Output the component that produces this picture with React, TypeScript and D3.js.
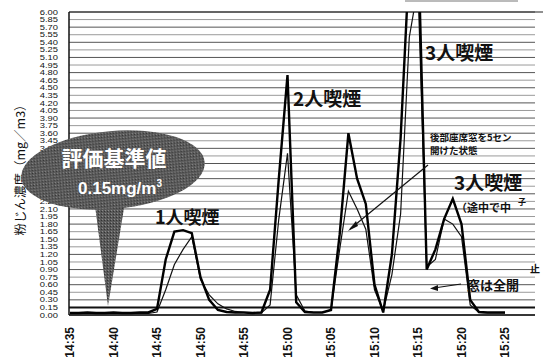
import React from "react";
import * as d3 from "d3";

const minutes = [0,1,2,3,4,5,6,7,8,9,10,11,12,13,14,15,16,17,18,19,20,21,22,23,24,25,26,27,28,29,30,31,32,33,34,35,36,37,38,39,40,41,42,43,44,45,46,47,48,49,50];
const thickSeries = [0.04,0.04,0.05,0.04,0.04,0.05,0.04,0.04,0.05,0.05,0.12,1.1,1.65,1.68,1.62,0.75,0.3,0.1,0.06,0.05,0.05,0.04,0.05,0.5,2.7,4.75,0.25,0.06,0.05,0.05,0.1,1.6,3.6,2.7,2.2,0.6,0.05,1.2,3.5,7.0,7.5,0.9,1.3,1.9,2.3,1.8,0.3,0.06,0.05,0.05,0.05];
const thinSeries = [0.03,0.03,0.03,0.03,0.03,0.03,0.03,0.03,0.03,0.03,0.06,0.5,1.0,1.3,1.55,0.7,0.4,0.22,0.12,0.07,0.05,0.04,0.04,0.2,1.9,3.2,0.4,0.08,0.05,0.05,0.1,1.3,2.45,2.1,1.7,0.5,0.08,0.8,2.0,5.5,6.5,0.95,1.1,1.9,1.8,1.55,0.2,0.05,0.04,0.04,0.04];
const tickMinutes = [0,5,10,15,20,25,30,35,40,45,50];
const tickLabels = ["14:35","14:40","14:45","14:50","14:55","15:00","15:05","15:10","15:15","15:20","15:25"];
const yTicks = d3.range(0, 41).map((i) => +(i * 0.15).toFixed(2));
const threshold = 0.15;

const W = 543, H = 361;
const L = 69, R = 535, T = 12, B = 315;

export default function App() {
  const x = d3.scaleLinear().domain([0, 50]).range([70, 505]);
  const y = d3.scaleLinear().domain([0, 6]).range([B, T]);
  const line = d3.line<number>().x((_, i) => x(minutes[i])).y((d) => y(d));
  const jp = "'Noto Sans CJK JP', 'Noto Sans', sans-serif";
  const sans = "'Liberation Sans', Arial, sans-serif";
  return (
    <svg width={W} height={H} style={{ position: "absolute", left: 0, top: 0, background: "#fff" }}>
      <defs>
        <clipPath id="plot"><rect x={L} y={T} width={R - L} height={B - T} /></clipPath>
        <pattern id="stip" width="3" height="3" patternUnits="userSpaceOnUse">
          <rect width="3" height="3" fill="#5a5a5a" />
          <rect x="0" y="0" width="1" height="1" fill="#8a8a8a" />
          <rect x="2" y="1" width="1" height="1" fill="#333" />
        </pattern>
      </defs>
      <line x1={405} x2={518} y1={1} y2={1} stroke="#777" strokeWidth={1} />
      {yTicks.map((v, i) => (
        <line key={"g" + i} x1={L} x2={R} y1={y(v)} y2={y(v)} stroke={i % 2 ? "#9a9a9a" : "#555"} strokeWidth={1} />
      ))}
      <line x1={L} x2={R + 8} y1={T} y2={T} stroke="#222" strokeWidth={1.2} />
      <line x1={L} x2={L} y1={T} y2={B} stroke="#111" strokeWidth={1.5} />
      <line x1={L} x2={R} y1={B} y2={B} stroke="#111" strokeWidth={1.5} />
      <line x1={L} x2={R} y1={y(threshold)} y2={y(threshold)} stroke="#111" strokeWidth={2} />
      {yTicks.map((v, i) => (
        <text key={"yl" + i} transform={`translate(58,${y(v) + 2.6}) scale(1.3,1)`} fontSize={7.2} fontFamily={sans} textAnchor="end" fill="#111">{v.toFixed(2)}</text>
      ))}
      {tickMinutes.map((m, i) => (
        <text key={"xl" + i} transform={`translate(${x(m) + 4},327) rotate(-90)`} fontSize={12} fontFamily={sans} fontWeight="bold" textAnchor="end" fill="#111">{tickLabels[i]}</text>
      ))}
      <text transform="translate(25,167) rotate(-90)" fontSize={12.5} fontFamily={jp} textAnchor="middle" fill="#111">粉じん濃度（mg／m3）</text>
      <g clipPath="url(#plot)">
        <path d={line(thinSeries) || ""} fill="none" stroke="#111" strokeWidth={1.2} />
        <path d={line(thickSeries) || ""} fill="none" stroke="#000" strokeWidth={2.4} />
      </g>
      <path d="M94,198 L108,306 L126,196 Z" fill="url(#stip)" />
      <ellipse cx={113} cy={170} rx={92} ry={39} transform="rotate(-5,113,170)" fill="url(#stip)" />
      <text x={114} y={166} fontSize={21} fontFamily={jp} fontWeight="bold" fill="#fff" textAnchor="middle">評価基準値</text>
      <text x={78} y={194} fontSize={17} fontFamily={sans} fontWeight="bold" fill="#fff">0.15mg/m<tspan fontSize={10} dy={-7}>3</tspan></text>
      <text x={155} y={224} fontSize={18} fontFamily={jp} fontWeight="bold" fill="#111">1人喫煙</text>
      <text x={293} y={106} fontSize={19} fontFamily={jp} fontWeight="bold" fill="#111">2人喫煙</text>
      <text x={425} y={60} fontSize={19} fontFamily={jp} fontWeight="bold" fill="#111">3人喫煙</text>
      <text x={454} y={190} fontSize={19} fontFamily={jp} fontWeight="bold" fill="#111">3人喫煙</text>
      <text x={456} y={212} fontSize={11} fontFamily={jp} fontWeight="bold" fill="#111">（途中で中</text>
      <text x={518} y={205} fontSize={8} fontFamily={jp} fontWeight="bold" fill="#111">子</text>
      <text x={530} y={273} fontSize={10} fontFamily={jp} fontWeight="bold" fill="#111">止</text>
      <text x={430} y={140.5} fontSize={9.5} fontFamily={jp} fontWeight="bold" fill="#111">後部座席窓を5セン</text>
      <text x={430} y={153.5} fontSize={9.5} fontFamily={jp} fontWeight="bold" fill="#111">開けた状態</text>
      <line x1={428} y1={165} x2={350} y2={229} stroke="#111" strokeWidth={1.2} />
      <path d="M348,231 L356,221 L358,226 Z" fill="#111" />
      <text x={467} y={290} fontSize={13} fontFamily={jp} fontWeight="bold" fill="#111">窓は全開</text>
      <line x1={461} y1={284} x2={434} y2={288} stroke="#111" strokeWidth={1.2} />
      <path d="M430,288.5 L438,285 L438,291 Z" fill="#111" />
    </svg>
  );
}
